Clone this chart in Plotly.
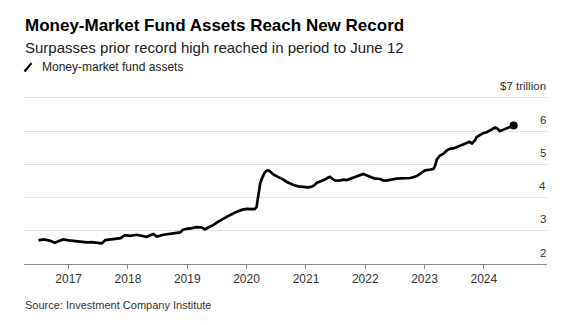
import plotly.graph_objects as go

# ---- data ----
dates = [
    "2016-06-29", "2016-07-31", "2016-09-09", "2016-10-08", "2016-11-03", "2016-11-28",
    "2017-01-01", "2017-01-30", "2017-03-11", "2017-04-23", "2017-05-22", "2017-07-02",
    "2017-07-24", "2017-08-15", "2017-09-20", "2017-10-23", "2017-11-17", "2017-12-13",
    "2018-01-15", "2018-02-24", "2018-03-29", "2018-04-27", "2018-06-06", "2018-06-28",
    "2018-08-08", "2018-09-20", "2018-10-27", "2018-11-18", "2018-12-06", "2018-12-28",
    "2019-01-30", "2019-02-28", "2019-04-01", "2019-04-20", "2019-05-19", "2019-06-10",
    "2019-07-09", "2019-08-11", "2019-09-20", "2019-10-30", "2019-12-02", "2020-01-01",
    "2020-01-26", "2020-02-20", "2020-03-03", "2020-03-11", "2020-03-18", "2020-03-25",
    "2020-04-05", "2020-04-12", "2020-04-23", "2020-05-04", "2020-05-15", "2020-05-30",
    "2020-06-14", "2020-07-06", "2020-07-24", "2020-08-15", "2020-09-06", "2020-09-28",
    "2020-10-16", "2020-11-14", "2020-12-16", "2021-01-15", "2021-02-06", "2021-02-24",
    "2021-03-07", "2021-03-26", "2021-04-09", "2021-05-01", "2021-05-19", "2021-05-30",
    "2021-06-17", "2021-07-02", "2021-07-31", "2021-08-22", "2021-09-09", "2021-10-05",
    "2021-10-30", "2021-11-24", "2021-12-20", "2022-01-08", "2022-01-30", "2022-02-24",
    "2022-04-02", "2022-04-20", "2022-05-08", "2022-06-03", "2022-07-13", "2022-08-08",
    "2022-09-13", "2022-10-05", "2022-10-27", "2022-11-14", "2022-12-10", "2023-01-04",
    "2023-01-30", "2023-02-24", "2023-03-07", "2023-03-18", "2023-04-05", "2023-04-27",
    "2023-05-19", "2023-06-06", "2023-06-28", "2023-07-16", "2023-08-15", "2023-09-17",
    "2023-10-05", "2023-10-20", "2023-11-07", "2023-11-17", "2023-12-10", "2023-12-28",
    "2024-01-19", "2024-02-06", "2024-02-24", "2024-03-10", "2024-03-25", "2024-04-09",
    "2024-04-27", "2024-05-22", "2024-06-13", "2024-07-03",
]
assets = [
    2.71, 2.74, 2.70, 2.64, 2.69, 2.74,
    2.71, 2.69, 2.67, 2.65, 2.66, 2.63,
    2.62, 2.72, 2.74, 2.75, 2.78, 2.87,
    2.85, 2.88, 2.85, 2.82, 2.90, 2.83,
    2.88, 2.90, 2.93, 2.95, 3.03, 3.06,
    3.08, 3.11, 3.10, 3.04, 3.12, 3.17,
    3.27, 3.37, 3.47, 3.57, 3.63, 3.66,
    3.65, 3.65, 3.72, 3.95, 4.25, 4.42,
    4.58, 4.67, 4.76, 4.81, 4.82, 4.77,
    4.70, 4.64, 4.60, 4.54, 4.47, 4.42,
    4.38, 4.34, 4.32, 4.31, 4.33, 4.38,
    4.44, 4.47, 4.50, 4.55, 4.61, 4.62,
    4.55, 4.51, 4.52, 4.54, 4.53, 4.57,
    4.62, 4.67, 4.71, 4.67, 4.62, 4.58,
    4.56, 4.52, 4.51, 4.54, 4.57, 4.58,
    4.58, 4.59, 4.62, 4.65, 4.74, 4.82,
    4.84, 4.86, 4.95, 5.15, 5.26, 5.32,
    5.42, 5.47, 5.48, 5.52, 5.58, 5.64,
    5.68, 5.63, 5.72, 5.82, 5.88, 5.94,
    5.97, 6.02, 6.06, 6.11, 6.08, 6.00,
    6.04, 6.09, 6.13, 6.17,
]
year_ticks = ["2017-01-01", "2018-01-01", "2019-01-01", "2020-01-01",
              "2021-01-01", "2022-01-01", "2023-01-01", "2024-01-01"]
year_labels = ["2017", "2018", "2019", "2020", "2021", "2022", "2023", "2024"]
y_ticks = [2, 3, 4, 5, 6, 7]
y_labels = ["2", "3", "4", "5", "6", "$7 trillion"]

title = "Money-Market Fund Assets Reach New Record"
subtitle = "Surpasses prior record high reached in period to June 12"
legend_label = "Money-market fund assets"
source = "Source: Investment Company Institute"

FONT = "Liberation Sans, Arial, Helvetica, sans-serif"

fig = go.Figure()
fig.add_trace(go.Scatter(
    x=dates, y=assets, mode="lines",
    line=dict(color="#000000", width=2.7, shape="linear"),
    showlegend=False, hoverinfo="skip",
))
fig.add_trace(go.Scatter(
    x=[dates[-1]], y=[assets[-1]], mode="markers",
    marker=dict(color="#000000", size=8),
    showlegend=False, hoverinfo="skip",
))

# plot area geometry (pixels)
L, R, T, B = 24, 20, 95.5, 61
W, H = 567, 325
ph = H - T - B


def py(p):
    return (H - B - p) / ph


def px(p):
    return (p - L) / (W - L - R)


fig.update_layout(
    width=W, height=H,
    margin=dict(l=L, r=R, t=T, b=B, pad=0),
    paper_bgcolor="white", plot_bgcolor="white",
    font=dict(family=FONT, color="#222222"),
    xaxis=dict(
        type="date",
        range=["2016-04-01", "2025-01-24"],
        tickmode="array", tickvals=year_ticks, ticktext=year_labels,
        ticks="outside", ticklen=4, tickwidth=1, tickcolor="#8a8a8a",
        showline=True, linecolor="#8a8a8a", linewidth=1,
        showgrid=False, zeroline=False,
        tickfont=dict(size=12, color="#333333", family=FONT),
        fixedrange=True,
    ),
    yaxis=dict(
        range=[2, 7.06], side="right",
        tickmode="array", tickvals=y_ticks, ticktext=y_labels,
        showticklabels=False, ticks="",
        showgrid=True, gridcolor="#e3e3e3", gridwidth=1,
        zeroline=False, showline=False,
        fixedrange=True,
    ),
)

# y-axis labels sitting above their grid lines, right-aligned at the plot edge
for v, lab in zip(y_ticks, y_labels):
    fig.add_annotation(text=lab, xref="paper", yref="y", x=1, y=v,
                       xanchor="right", yanchor="middle", showarrow=False,
                       xshift=1, yshift=11.5,
                       font=dict(size=11.5, color="#333333", family=FONT))

fig.add_annotation(text="<b>" + title + "</b>", xref="paper", yref="paper",
                   x=0, y=py(24.5), xanchor="left", yanchor="middle", showarrow=False,
                   xshift=-1, font=dict(size=17, color="#000000", family=FONT))
fig.add_annotation(text=subtitle, xref="paper", yref="paper",
                   x=0, y=py(46.5), xanchor="left", yanchor="middle", showarrow=False,
                   xshift=-1, font=dict(size=15, color="#222222", family=FONT))
fig.add_annotation(text=legend_label, xref="paper", yref="paper",
                   x=px(40.5), y=py(66.5), xanchor="left", yanchor="middle", showarrow=False,
                   xshift=-1, font=dict(size=12, color="#222222", family=FONT))
fig.add_annotation(text=source, xref="paper", yref="paper",
                   x=0, y=py(305.5), xanchor="left", yanchor="middle", showarrow=False,
                   xshift=-1, font=dict(size=11, color="#333333", family=FONT))
fig.add_shape(type="line", xref="paper", yref="paper",
              x0=px(24.5), y0=py(71), x1=px(31.5), y1=py(62.5),
              line=dict(color="#000000", width=2.2))

fig.write_html("out.html", config={"displayModeBar": False})
